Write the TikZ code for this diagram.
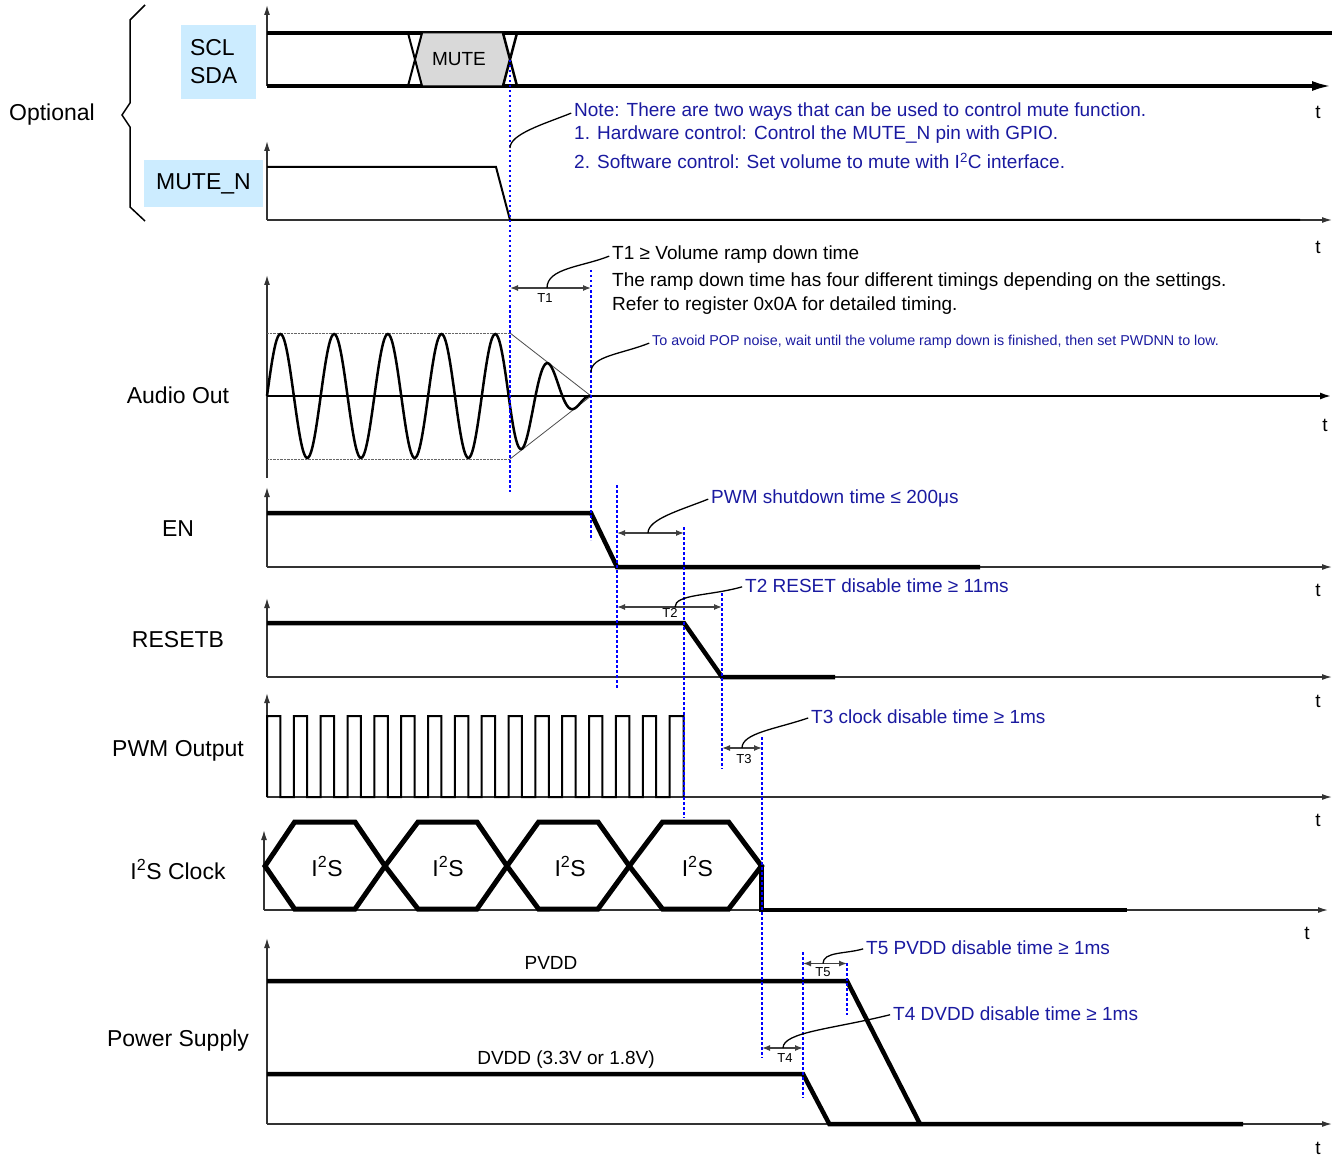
\documentclass[tikz,border=0pt]{standalone}
\usepackage{fontspec}
\setmainfont{Liberation Sans}
\usetikzlibrary{arrows.meta}

\definecolor{notecol}{RGB}{26,26,160}
\definecolor{guidecol}{RGB}{0,0,255}
\definecolor{boxcol}{RGB}{204,236,255}
\definecolor{mutecol}{RGB}{217,217,217}

\newcommand{\bigtxt}{\fontsize{23}{28}\selectfont}
\newcommand{\midtxt}{\fontsize{19}{23}\selectfont}
\newcommand{\smltxt}{\fontsize{14.3}{17}\selectfont}
\newcommand{\tintxt}{\fontsize{13}{15}\selectfont}

\begin{document}
\begin{tikzpicture}[x=1pt, y=-1pt,
  ax/.style={line width=1.3pt, black!80, -{Latex[length=10pt,width=6pt]}},
  sig/.style={line width=4.5pt},
  guide/.style={guidecol, line width=1.6pt, dash pattern=on 2.5pt off 2.5pt},
  dim/.style={line width=1.3pt, black!75, {Latex[length=8pt,width=6pt]}-{Latex[length=8pt,width=6pt]}},
  lead/.style={line width=1.3pt, shorten >=3pt},
  note/.style={notecol, anchor=west, inner sep=0pt, yshift=-3pt, font=\midtxt},
  blk/.style={anchor=west, inner sep=0pt, yshift=-3pt, font=\midtxt},
  lblbox/.style={fill=boxcol, inner sep=0pt, font=\bigtxt},
  siglbl/.style={font=\bigtxt},
  tlbl/.style={font=\midtxt},
  dimlbl/.style={font=\tintxt, inner sep=0pt}]

	\useasboundingbox (0,0) rectangle (1338,1158);

	% left labels
	\node[siglbl] (optl) at (52,115) {Optional};
	\draw[line width=1.5pt] (145,5) -- (130,20) -- (130,103) -- (122,115) -- (130,127) -- (130,207) -- (145,221);
	\node[lblbox, text width=57pt, inner xsep=9pt, minimum height=74pt, align=left] (sclsda) at (218.5,62) {SCL\\SDA};
	\node[lblbox, minimum width=119pt, minimum height=47pt] (muten) at (203.5,183.5) {MUTE\_N};
	\node[siglbl] (audl) at (178,395) {Audio Out};
	\node[siglbl] (enl) at (178,529) {EN};
	\node[siglbl] (rstl) at (178,640) {RESETB};
	\node[siglbl] (pwml) at (178,751) {PWM Output};
	\node[siglbl] (i2sl) at (178,869) {I\textsuperscript{2}S Clock};
	\node[siglbl] (pwrl) at (178,1041) {Power Supply};

	% SCL / SDA
	\draw[ax] (267,86) -- (267,5);
	\draw[line width=3.5pt] (267,33) -- (1332,33);
	\draw[line width=3.5pt, -{Latex[length=20pt,width=10pt]}] (267,86) -- (1332,86);
	\draw[fill=mutecol, line width=1pt] (422,33) -- (503,33) -- (510,59.5) -- (503,86) -- (422,86) -- (415,59.5) -- cycle;
	\draw[line width=2pt] (408,33) -- (422,86) (408,86) -- (422,33);
	\draw[line width=2.5pt] (503,33) -- (517,86) (503,86) -- (517,33);
	\node[tlbl] (mute) at (459,59.5) {MUTE};
	\node[tlbl] (tsda) at (1318,112) {t};

	% MUTE_N
	\draw[ax] (267,220) -- (267,141);
	\draw[ax] (267,220) -- (1332,220);
	\draw[line width=2pt] (267,167) -- (496,167) -- (510,220) -- (1300,220);
	\node[tlbl] (tmute) at (1318,247) {t};

	% Audio Out
	\draw[ax] (267,478) -- (267,275);
	\draw[line width=2.5pt, -{Latex[length=12pt,width=7pt]}] (267,396) -- (1332,396);
	\draw[black!60, densely dotted] (267,333) -- (510,333) (267,459) -- (510,459);
	\draw[black!70, line width=0.8pt] (510,333) -- (591,396) -- (510,459);
	\draw[line width=2.5pt] plot[domain=267:510, samples=200, smooth] (\x, {396-62*sin(6.7039*(\x-267))});
	\draw[line width=2.5pt] plot[domain=510:591, samples=80, smooth] (\x, {396-0.7654*(591-\x)*sin(6.7039*(\x-267))});
	\node[tlbl] (taud) at (1325,425) {t};

	% EN
	\draw[ax] (267,567) -- (267,487);
	\draw[ax] (267,567) -- (1332,567);
	\draw[sig] (267,513) -- (591,513) -- (617,567) -- (980,567);
	\node[tlbl] (ten) at (1318,590) {t};

	% RESETB
	\draw[ax] (267,677) -- (267,598);
	\draw[ax] (267,677) -- (1332,677);
	\draw[sig] (267,623) -- (684,623) -- (722,677) -- (835,677);
	\node[tlbl] (trst) at (1318,701) {t};

	% PWM Output
	\draw[ax] (267,797) -- (267,693);
	\draw[ax] (267,797) -- (1332,797);
	\draw[line width=2pt] (267,797) foreach \k in {0,...,14} {
	  -- ({267+26.84*\k},716) -- ({280.4+26.84*\k},716) -- ({280.4+26.84*\k},797) -- ({293.84+26.84*\k},797)}
	  -- (669.6,716) -- (683.5,716) -- (683.5,797);
	\node[tlbl] (tpwm) at (1318,820) {t};

	% I2S Clock
	\draw[ax] (264,910) -- (264,830);
	\draw[ax] (264,910) -- (1328,910);
	\foreach \l/\a/\b/\r [count=\n] in {265/294.6/355/385, 385/418/477/507, 507/538.6/598/629.3, 629.3/662.5/728.6/761.5} {
	  \draw[line width=5pt] (\l,866) -- (\a,822) -- (\b,822) -- (\r,866) -- (\b,909) -- (\a,909) -- cycle;
	  \node[font=\bigtxt] (i2s\n) at ({(\l+\r)/2+2},866) {I\textsuperscript{2}S};
	}
	\draw[line width=4.5pt] (761.5,866) -- (761.5,910) -- (1127,910);
	\node[tlbl] (ti2s) at (1307,933) {t};

	% Power Supply
	\draw[ax] (267,1124) -- (267,938);
	\draw[ax] (267,1124) -- (1332,1124);
	\draw[sig] (267,981) -- (847,981) -- (920,1124);
	\draw[sig] (267,1074) -- (803,1074) -- (829.3,1124) -- (1243,1124);
	\node[tlbl] (pvdd) at (551,963) {PVDD};
	\node[tlbl] (dvdd) at (566,1060) {DVDD (3.3V or 1.8V)};
	\node[tlbl] (tpwr) at (1318,1148) {t};

	% guides
	\draw[guide] (510,60) -- (510,492);
	\draw[guide] (591,270) -- (591,540);
	\draw[guide] (617,485) -- (617,688);
	\draw[guide] (684,527) -- (684,818);
	\draw[guide] (722,593) -- (722,769);
	\draw[guide] (762,737) -- (762,1058);
	\draw[guide] (803,952) -- (803,1098);
	\draw[guide] (847,963) -- (847,1015);

	% timing arrows
	\draw[dim] (510,288) -- (591,288);
	\draw[dim] (617,533) -- (684,533);
	\draw[dim] (617,607) -- (722,607);
	\draw[dim] (722,748) -- (762,748);
	\draw[dim] (803,963.5) -- (847,963.5);
	\draw[dim] (762,1048) -- (803,1048);
	\node[dimlbl] (t1) at (545,298) {T1};
	\node[dimlbl] (t2) at (670,613) {T2};
	\node[dimlbl] (t3) at (744,759) {T3};
	\node[dimlbl] (t5) at (823,972) {T5};
	\node[dimlbl] (t4) at (785,1058) {T4};

	\coordinate (nm) at (510,148);
	\coordinate (t1m) at (547,288);
	\coordinate (popm) at (591,372);
	\coordinate (pwmm) at (648,533);
	\coordinate (t2m) at (675,607);
	\coordinate (t3m) at (742,748);
	\coordinate (t5m) at (823,963.5);
	\coordinate (t4m) at (783,1048);

	% notes
	\node[note] (nt1) at (574,109) {Note: There are two ways that can be used to control mute function.};
	\node[note] (nt2) at (574,132) {1. Hardware control: Control the MUTE\_N pin with GPIO.};
	\node[note] (nt3) at (574,158) {2. Software control: Set volume to mute with I\textsuperscript{2}C interface.};
	\node[blk] (t1a) at (612,252) {T1 ≥ Volume ramp down time};
	\node[blk] (t1b) at (612,279) {The ramp down time has four different timings depending on the settings.};
	\node[blk] (t1c) at (612,303) {Refer to register 0x0A for detailed timing.};
	\node[note, font=\smltxt] (pop) at (652,339) {To avoid POP noise, wait until the volume ramp down is finished, then set PWDNN to low.};
	\node[note] (pwmt) at (711,495) {PWM shutdown time ≤ 200μs};
	\node[note] (t2t) at (745,583) {T2 RESET disable time ≥ 11ms};
	\node[note] (t3t) at (811,714) {T3 clock disable time ≥ 1ms};
	\node[note] (t5t) at (866,945) {T5 PVDD disable time ≥ 1ms};
	\node[note] (t4t) at (893,1011) {T4 DVDD disable time ≥ 1ms};

	\draw[lead] (nm) .. controls +(0,-14) and +(-30,12) .. (nt1.west);
	\draw[lead] (t1m) .. controls +(0,-20) and +(-30,12) .. (t1a.west);
	\draw[lead] (popm) .. controls +(0,-16) and +(-30,12) .. (pop.west);
	\draw[lead] (pwmm) .. controls +(0,-14) and +(-30,12) .. (pwmt.west);
	\draw[lead] (t2m) .. controls +(0,-13) and +(-35,10) .. (t2t.west);
	\draw[lead] (t3m) .. controls +(0,-15) and +(-35,12) .. (t3t.west);
	\draw[lead] (t5m) .. controls +(0,-12) and +(-20,6) .. (t5t.west);
	\draw[lead] (t4m) .. controls +(0,-16) and +(-60,15) .. (t4t.west);

\end{tikzpicture}
\end{document}
